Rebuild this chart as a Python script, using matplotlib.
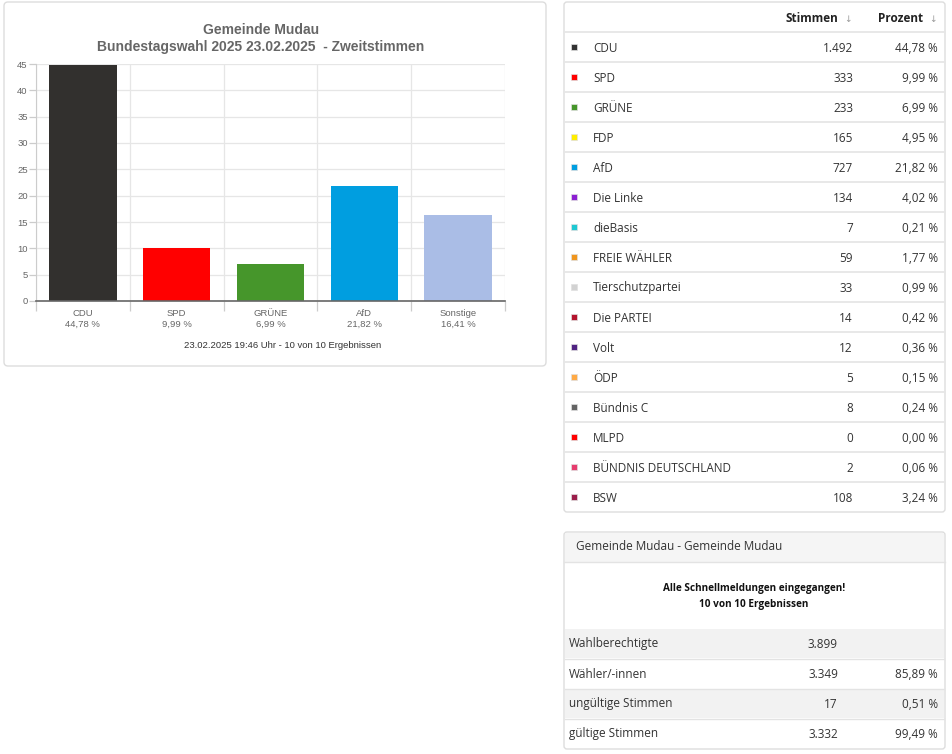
import matplotlib
matplotlib.use('Agg')
import matplotlib.pyplot as plt
from matplotlib.patches import FancyBboxPatch, Rectangle

# chart data
chart_labels = ['CDU', 'SPD', 'GRÜNE', 'AfD', 'Sonstige']
chart_values = [44.78, 9.99, 6.99, 21.82, 16.41]
chart_colors = ['#32302e', '#ff0000', '#46962b', '#009ee0', '#aabde6']

# party table data
parties = ['CDU', 'SPD', 'GRÜNE', 'FDP', 'AfD', 'Die Linke', 'dieBasis', 'FREIE WÄHLER',
           'Tierschutzpartei', 'Die PARTEI', 'Volt', 'ÖDP', 'Bündnis C', 'MLPD',
           'BÜNDNIS DEUTSCHLAND', 'BSW']
stimmen = [1492, 333, 233, 165, 727, 134, 7, 59, 33, 14, 12, 5, 8, 0, 2, 108]
prozent = [44.78, 9.99, 6.99, 4.95, 21.82, 4.02, 0.21, 1.77, 0.99, 0.42, 0.36, 0.15,
           0.24, 0.00, 0.06, 3.24]
party_colors = ['#333333', '#ff0000', '#46962b', '#ffed00', '#009ee0', '#8c1fd2', '#1fc8d2',
                '#f0961e', '#d2d2d2', '#b4142d', '#502382', '#ffaa46', '#646464', '#ff0000',
                '#e63c6e', '#9b1e4b']

# summary table data
summary_labels = ['Wahlberechtigte', 'Wähler/-innen', 'ungültige Stimmen', 'gültige Stimmen']
summary_values = [3899, 3349, 17, 3332]
summary_pct = [None, 85.89, 0.51, 99.49]


def de_int(v):
    return f'{v:,}'.replace(',', '.')


def de_pct(v):
    return f'{v:.2f} %'.replace('.', ',')


W, H = 952, 754
fig = plt.figure(figsize=(W / 100, H / 100), dpi=100)
fig.patch.set_facecolor('white')

# background axes in pixel coordinates
bg = fig.add_axes([0, 0, 1, 1])
bg.set_xlim(0, W)
bg.set_ylim(H, 0)
bg.axis('off')

tfont = ['Open Sans', 'DejaVu Sans']
cfont = ['Liberation Sans', 'DejaVu Sans']

# left chart panel
bg.add_patch(FancyBboxPatch((4, 2), 542, 364, boxstyle='round,pad=0,rounding_size=4',
                            fc='white', ec='#dddddd', lw=1))
bg.text(261, 30, 'Gemeinde Mudau', ha='center', va='center', fontsize=10, fontweight='bold',
        color='#666666', family=cfont)
bg.text(261, 47, 'Bundestagswahl 2025 23.02.2025  - Zweitstimmen', ha='center', va='center',
        fontsize=10, fontweight='bold', color='#666666', family=cfont)
bg.text(283, 345, '23.02.2025 19:46 Uhr - 10 von 10 Ergebnissen', ha='center', va='center',
        fontsize=6.8, color='#333333', family=cfont)

# party table panel
bg.add_patch(FancyBboxPatch((564, 2), 381, 510, boxstyle='round,pad=0,rounding_size=3',
                            fc='white', ec='#dddddd', lw=1))
bg.text(838, 18, 'Stimmen', ha='right', va='center', fontsize=8.5, fontweight='bold',
        color='#222222', family=tfont)
bg.text(848, 19, '↓', ha='center', va='center', fontsize=6.5, color='#999999', family=tfont)
bg.text(923, 18, 'Prozent', ha='right', va='center', fontsize=8.5, fontweight='bold',
        color='#222222', family=tfont)
bg.text(933, 19, '↓', ha='center', va='center', fontsize=6.5, color='#999999', family=tfont)
bg.plot([564, 945], [32, 32], color='#e6e6e6', lw=1.3)

row_h = 30
for i, name in enumerate(parties):
    yc = 48 + i * row_h
    bg.add_patch(Rectangle((571, yc - 4), 6, 6, fc=party_colors[i], ec='#e0e0e0', lw=0.5))
    bg.text(593, yc, name, ha='left', va='center', fontsize=8.5, color='#333333', family=tfont)
    bg.text(853, yc, de_int(stimmen[i]), ha='right', va='center', fontsize=8.5,
            color='#333333', family=tfont)
    bg.text(938, yc, de_pct(prozent[i]), ha='right', va='center', fontsize=8.5,
            color='#333333', family=tfont)
    if i < len(parties) - 1:
        bg.plot([564, 945], [yc + 14, yc + 14], color='#e6e6e6', lw=1.3)

# summary panel
bg.add_patch(FancyBboxPatch((564, 532), 381, 217, boxstyle='round,pad=0,rounding_size=3',
                            fc='white', ec='#dddddd', lw=1))
bg.add_patch(Rectangle((565, 533), 379, 29, fc='#f5f5f5', ec='none'))
bg.plot([564, 945], [562, 562], color='#e3e3e3', lw=1)
bg.text(576, 547, 'Gemeinde Mudau - Gemeinde Mudau', ha='left', va='center', fontsize=8.5,
        color='#333333', family=tfont)
bg.text(754, 589, 'Alle Schnellmeldungen eingegangen!', ha='center', va='center',
        fontsize=7.2, fontweight='bold', color='#111111', family=tfont)
bg.text(754, 604, '10 von 10 Ergebnissen', ha='center', va='center',
        fontsize=7.2, fontweight='bold', color='#111111', family=tfont)
for i, lab in enumerate(summary_labels):
    yc = 644 + i * row_h
    if i % 2 == 0:
        bg.add_patch(Rectangle((565, yc - 15), 379, 29, fc='#f2f2f2', ec='none'))
    if i > 0:
        bg.plot([565, 944], [yc - 15, yc - 15], color='#e3e3e3', lw=1)
    bg.text(569, yc, lab, ha='left', va='center', fontsize=8.5, color='#333333', family=tfont)
    bg.text(838, yc, de_int(summary_values[i]), ha='right', va='center', fontsize=8.5,
            color='#333333', family=tfont)
    if summary_pct[i] is not None:
        bg.text(938, yc, de_pct(summary_pct[i]), ha='right', va='center', fontsize=8.5,
                color='#333333', family=tfont)

# bar chart
ax = fig.add_axes([36 / W, 1 - 301 / H, 469 / W, 237 / H])
x = range(len(chart_labels))
ax.bar(x, chart_values, width=0.72, color=chart_colors, zorder=3)
ax.set_xlim(-0.5, len(chart_labels) - 0.5)
ax.set_ylim(0, 45)
ax.set_yticks(range(0, 46, 5))
ax.yaxis.grid(True, color='#e6e6e6', lw=0.9, zorder=0)
ax.set_xticks([i - 0.5 for i in range(len(chart_labels) + 1)], minor=True)
ax.xaxis.grid(True, which='minor', color='#e6e6e6', lw=0.9, zorder=0)
ax.set_xticks(list(x))
ax.set_xticklabels([f'{l}\n{de_pct(v)}' for l, v in zip(chart_labels, chart_values)],
                   fontsize=6.8, color='#666666', family=cfont, linespacing=1.15)
ax.tick_params(axis='x', which='major', length=0, pad=6)
ax.tick_params(axis='x', which='minor', length=7, color='#cccccc', width=0.9)
ax.tick_params(axis='y', length=5, color='#cccccc', width=0.9, labelsize=6.8,
               labelcolor='#666666', pad=1)
for t in ax.get_yticklabels():
    t.set_family(cfont)
for s in ['top', 'right']:
    ax.spines[s].set_visible(False)
ax.spines['left'].set_color('#cccccc')
ax.spines['bottom'].set_color('#666666')
ax.spines['bottom'].set_linewidth(1.2)
ax.spines['bottom'].set_zorder(4)

fig.savefig('out.png', dpi=100)
